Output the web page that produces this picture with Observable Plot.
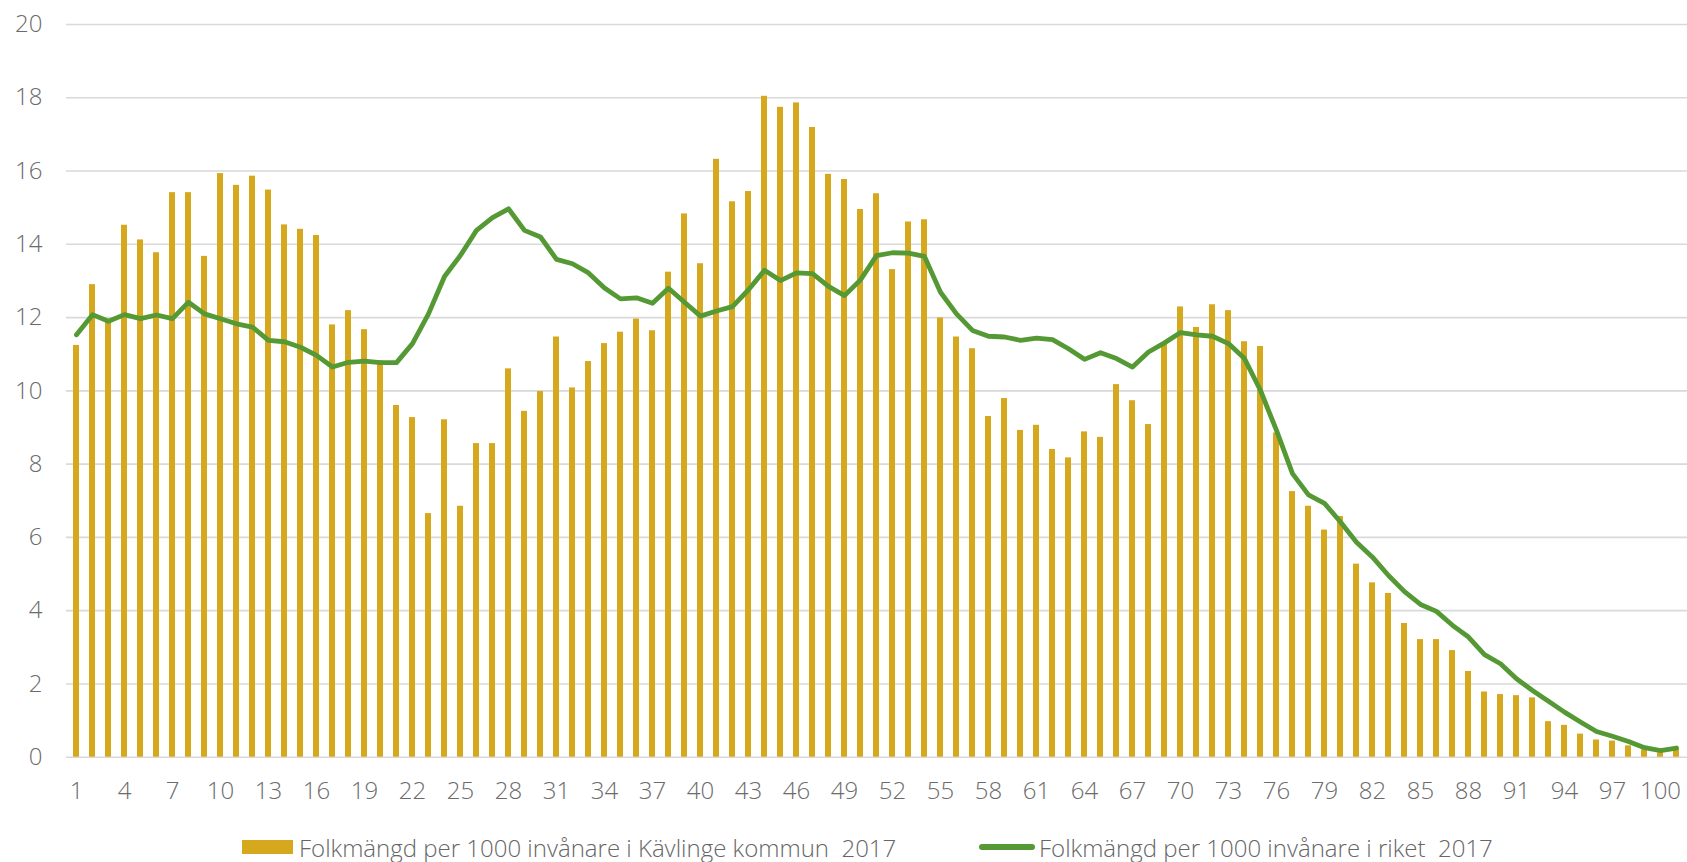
<!DOCTYPE html>
<html>
<head>
<meta charset="utf-8">
<script src="https://cdn.jsdelivr.net/npm/d3@7"></script>
<script src="https://cdn.jsdelivr.net/npm/@observablehq/plot@0.6"></script>
<style>
  html, body { margin: 0; padding: 0; background: #fff; }
  #wrap { position: relative; width: 1687px; height: 862px; font-family: "Open Sans", sans-serif; }
  .leg { position: absolute; top: 832px; height: 30px; display: flex; align-items: center; font-size: 24px; color: #666; font-weight: 300; white-space: pre; }
  .sw-bar { width: 51px; height: 14px; background: #D5A81E; margin-right: 6px; }
  .sw-line { width: 56px; height: 6px; border-radius: 3px; background: #559935; margin-right: 4px; }
</style>
</head>
<body>
<div id="wrap"></div>
<script>
const ages = d3.range(1, 102);

const kommun = [
  11.24, 12.90, 11.95, 14.52, 14.12, 13.77, 15.41, 15.41, 13.67, 15.93,
  15.61, 15.86, 15.48, 14.53, 14.41, 14.24, 11.80, 12.19, 11.67, 10.82,
  9.60, 9.27, 6.65, 9.21, 6.85, 8.56, 8.56, 10.60, 9.44, 9.98,
  11.47, 10.08, 10.80, 11.29, 11.60, 11.96, 11.64, 13.24, 14.83, 13.47,
  16.32, 15.16, 15.44, 18.04, 17.74, 17.86, 17.19, 15.91, 15.77, 14.95,
  15.38, 13.31, 14.61, 14.67, 11.99, 11.47, 11.15, 9.30, 9.79, 8.92,
  9.06, 8.40, 8.17, 8.88, 8.73, 10.17, 9.73, 9.08, 11.30, 12.29,
  11.73, 12.35, 12.19, 11.34, 11.21, 8.85, 7.25, 6.85, 6.20, 6.57,
  5.27, 4.76, 4.47, 3.65, 3.21, 3.21, 2.91, 2.34, 1.78, 1.71,
  1.68, 1.62, 0.97, 0.87, 0.63, 0.47, 0.44, 0.31, 0.20, 0.12,
  0.22
];

const riket = [
  11.53, 12.08, 11.90, 12.08, 11.97, 12.07, 11.97, 12.42, 12.10, 11.97,
  11.83, 11.74, 11.38, 11.34, 11.19, 10.97, 10.65, 10.78, 10.81, 10.77,
  10.77, 11.29, 12.10, 13.12, 13.70, 14.38, 14.73, 14.97, 14.38, 14.20,
  13.59, 13.47, 13.22, 12.81, 12.51, 12.54, 12.39, 12.80, 12.42, 12.04,
  12.18, 12.30, 12.76, 13.29, 13.01, 13.22, 13.20, 12.85, 12.60, 13.03,
  13.69, 13.77, 13.76, 13.67, 12.69, 12.10, 11.65, 11.49, 11.47, 11.38,
  11.44, 11.40, 11.15, 10.86, 11.04, 10.88, 10.65, 11.06, 11.31, 11.59,
  11.53, 11.49, 11.29, 10.88, 10.01, 8.92, 7.74, 7.16, 6.93, 6.42,
  5.87, 5.46, 4.96, 4.52, 4.17, 3.98, 3.60, 3.28, 2.80, 2.55,
  2.14, 1.82, 1.53, 1.23, 0.96, 0.70, 0.57, 0.43, 0.26, 0.18,
  0.25
];

const xTicks = [1, 4, 7, 10, 13, 16, 19, 22, 25, 28, 31, 34, 37, 40, 43, 46, 49, 52, 55, 58, 61, 64, 67, 70, 73, 76, 79, 82, 85, 88, 91, 94, 97, 100];
const yTicks = [0, 2, 4, 6, 8, 10, 12, 14, 16, 18, 20];

const seriesNames = [
  "Folkmängd per 1000 invånare i Kävlinge kommun  2017",
  "Folkmängd per 1000 invånare i riket  2017"
];

const data = ages.map((a, i) => ({age: a, kommun: kommun[i], riket: riket[i]}));

const chart = Plot.plot({
  width: 1687,
  height: 815,
  marginLeft: 66,
  marginRight: 0,
  marginTop: 24,
  marginBottom: 58.3,
  style: {fontFamily: "Open Sans, sans-serif", fontSize: "24px", color: "#6b6b6b", background: "#fff", fontWeight: 300},
  x: {type: "band", domain: ages, paddingInner: 0.62, paddingOuter: 0.3, align: 0.5},
  y: {domain: [0, 20]},
  marks: [
    Plot.gridY(yTicks, {stroke: "#d9d9d9", strokeOpacity: 1, strokeWidth: 1.6}),
    Plot.barY(data, {x: "age", y: "kommun", fill: "#D5A81E"}),
    Plot.lineY(data, {x: "age", y: "riket", stroke: "#559935", strokeWidth: 4.8, strokeLinejoin: "round", strokeLinecap: "round"}),
    Plot.axisY({ticks: yTicks, tickSize: 0, tickPadding: 24, label: null, fill: "#6b6b6b"}),
    Plot.axisX({ticks: xTicks, tickSize: 0, tickPadding: 25, label: null, fill: "#6b6b6b"})
  ]
});

const wrap = document.getElementById("wrap");
wrap.appendChild(chart);

const l1 = document.createElement("div");
l1.className = "leg";
l1.style.left = "242px";
l1.innerHTML = '<div class="sw-bar"></div>';
l1.appendChild(document.createTextNode(seriesNames[0]));
wrap.appendChild(l1);

const l2 = document.createElement("div");
l2.className = "leg";
l2.style.left = "979px";
l2.innerHTML = '<div class="sw-line"></div>';
l2.appendChild(document.createTextNode(seriesNames[1]));
wrap.appendChild(l2);
</script>
</body>
</html>
